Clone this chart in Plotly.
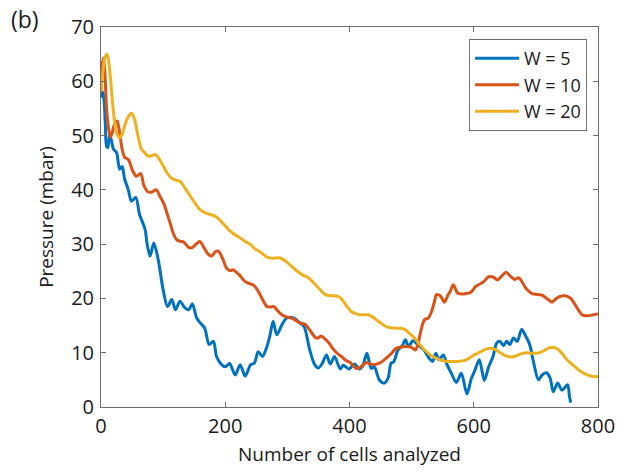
import plotly.graph_objects as go

# Pressure vs. number of cells analyzed, for three window sizes W
w5_x = [0, 3, 5, 7, 9, 11, 14, 17, 20, 25, 30, 34, 38, 44, 49, 56, 62, 71, 74, 79, 85, 92,
        100, 107, 114, 120, 127, 134, 141, 147, 154, 159, 167, 174, 181, 186, 194, 200,
        207, 216, 224, 232, 241, 247, 253, 260, 267, 272, 277, 283, 291, 299, 310, 320,
        327, 336, 344, 350, 356, 363, 369, 376, 385, 390, 399, 408, 416, 421, 428, 435,
        440, 448, 456, 462, 467, 471, 478, 485, 490, 495, 502, 510, 520, 528, 534, 539,
        544, 551, 557, 564, 572, 580, 589, 596, 602, 609, 617, 624, 631, 637, 642, 648,
        653, 658, 664, 670, 677, 683, 690, 696, 704, 710, 717, 723, 728, 735, 742, 751,
        754, 756]
w5_y = [57, 58, 56.5, 52, 48, 47.8, 50.2, 49, 47.5, 46.9, 43.8, 44.3, 42, 40, 37.9, 38.6,
        35.5, 32.7, 30.2, 27.8, 30.2, 27.2, 21.6, 18.5, 19.8, 17.9, 19.5, 18.4, 17.9, 19,
        16.4, 15.6, 14.5, 11.5, 12.1, 9.3, 7.8, 7.4, 8, 5.9, 7.8, 5.7, 7.8, 8.1, 10.2, 9.3,
        11.1, 13.2, 15.8, 13.3, 15.1, 16.4, 16.4, 15.5, 14.8, 10.5, 7.8, 7.2, 8, 9.6, 7.9,
        9.3, 7, 7.7, 7, 7.9, 7, 7.5, 9.9, 7.1, 7.4, 5, 4.4, 5.3, 8.1, 8.3, 10.5, 11.3, 12.4,
        11.1, 12.2, 11.5, 10.5, 9, 8.4, 9.9, 8.7, 9.6, 7.8, 6.2, 4.5, 6.2, 2.4, 5.2, 6.8,
        8.7, 4.9, 7.4, 9.3, 11.8, 12.1, 11.3, 12.1, 11.5, 12.7, 12.1, 14.3, 13.2, 11.5,
        8.4, 5, 5.9, 6.3, 5.3, 2.8, 4.4, 3.1, 4.1, 2, 0.8]

w10_x = [0, 2, 4, 6, 9, 12, 15, 18, 22, 26, 30, 34, 38, 44, 51, 57, 64, 69, 76, 82, 89, 95,
         101, 106, 111, 116, 122, 128, 133, 140, 146, 153, 159, 165, 172, 178, 184, 189,
         196, 202, 208, 213, 218, 223, 232, 240, 246, 251, 256, 261, 267, 272, 278, 283,
         288, 294, 299, 305, 310, 320, 329, 337, 345, 349, 354, 360, 367, 373, 380, 387,
         394, 401, 406, 411, 418, 427, 432, 438, 448, 454, 459, 467, 475, 486, 497, 502,
         506, 510, 513, 517, 521, 527, 533, 537, 540, 546, 553, 558, 562, 567, 574, 581,
         588, 596, 603, 609, 616, 624, 632, 638, 645, 652, 659, 666, 672, 677, 682, 686,
         694, 704, 710, 715, 721, 726, 731, 737, 747, 756, 760, 765, 770, 774, 782, 793,
         800]
w10_y = [58, 63, 64.3, 62, 55, 51.5, 49.7, 50.5, 52.2, 52.7, 50.5, 47.5, 46, 45.6, 43.5,
         42.5, 43, 40.8, 39.6, 39.6, 40, 38.8, 37.5, 35.8, 34, 32.1, 30.8, 30.5, 30.4, 29.5,
         29.3, 30, 30.5, 29.5, 28.2, 27.8, 28.6, 28.7, 27.3, 25.6, 25.1, 25.3, 24.8, 24.3,
         23.1, 22.7, 22.4, 21.7, 20.7, 19.6, 18.5, 18.4, 18.5, 17.9, 17.3, 16.8, 16.6, 16.4,
         16.2, 15.5, 15.2, 14, 12.8, 12.7, 13.1, 12.6, 11.8, 10.8, 9.9, 9.3, 8.6, 8.2, 7.6,
         7.1, 7.4, 8.2, 8, 7.8, 8.1, 8.5, 9, 9.8, 10.8, 11.1, 11.1, 10.8, 10.5, 11.5, 13,
         15, 16.1, 16.4, 17.9, 19.5, 20.7, 20.5, 19.3, 20.5, 21.3, 22.5, 21, 20.8, 20.9,
         21.2, 22.2, 22.6, 23.1, 24, 23.9, 23.4, 24.1, 24.8, 24.1, 23.5, 23.8, 23.2, 22.2,
         21.6, 20.9, 20.7, 20.6, 20.2, 19.7, 19.3, 19.8, 20.3, 20.5, 20, 19.4, 18.5, 17.6,
         17, 16.8, 17, 17.2]

w20_x = [0, 3, 6, 10, 14, 19, 22, 25, 30, 34, 38, 44, 49, 54, 58, 65, 70, 76, 82, 87, 93,
         100, 106, 113, 120, 127, 137, 144, 151, 159, 167, 175, 183, 189, 195, 203, 211,
         222, 232, 240, 248, 256, 267, 276, 286, 293, 300, 308, 316, 325, 334, 342, 348,
         355, 361, 370, 377, 383, 388, 396, 403, 410, 416, 424, 430, 437, 443, 450, 456,
         462, 467, 475, 483, 490, 496, 502, 507, 514, 521, 528, 534, 541, 548, 557, 566,
         574, 582, 588, 594, 601, 608, 615, 621, 628, 634, 640, 645, 652, 658, 665, 672,
         679, 686, 694, 702, 708, 715, 720, 726, 731, 737, 744, 750, 758, 766, 772, 779,
         786, 793, 800]
w20_y = [58.2, 61.5, 64.3, 65, 62, 55.5, 52.5, 50.5, 49.6, 50.2, 51.8, 53.5, 54.1, 53,
         50.8, 47.5, 46.9, 46.2, 46.3, 46.5, 45.8, 44.4, 43.2, 42.2, 41.8, 41.6, 40, 38.8,
         37.6, 36.4, 35.8, 35.5, 35.2, 34.7, 34, 33, 32.1, 31.3, 30.5, 30, 29.1, 28.6, 27.6,
         27.4, 27.5, 27.2, 26.6, 25.8, 25, 24.3, 23.8, 22.9, 22.2, 21.3, 20.7, 20.5, 20.5,
         20.3, 19.8, 18.5, 17.6, 17.2, 17, 17, 17, 16.6, 16.1, 15.5, 15, 14.7, 14.6, 14.5,
         14.5, 14.2, 13.6, 13, 12.4, 11.4, 10.5, 9.8, 9.3, 8.9, 8.6, 8.4, 8.4, 8.4, 8.5, 8.7,
         9.1, 9.6, 10, 10.4, 10.7, 10.8, 10.6, 10.2, 9.8, 9.4, 9.2, 9.3, 9.6, 9.9, 10, 9.9,
         9.9, 10.1, 10.5, 10.8, 11, 10.9, 10.5, 9.6, 8.7, 7.9, 7.1, 6.6, 6.1, 5.8, 5.6, 5.6]

series = [
    ("W = 5", w5_x, w5_y, "#0072BD"),
    ("W = 10", w10_x, w10_y, "#D95319"),
    ("W = 20", w20_x, w20_y, "#EDB120"),
]

FONT = "Open Sans"
TEXT_COLOR = "#1a1a1a"
AXIS_COLOR = "#6e6e6e"

fig = go.Figure()
for name, xs, ys, color in series:
    fig.add_trace(go.Scatter(
        x=xs, y=ys, name=name, mode="lines",
        line=dict(color=color, width=3, shape="spline", smoothing=0.8),
    ))

axis_common = dict(
    showline=True, linecolor=AXIS_COLOR, linewidth=1, mirror="allticks",
    ticks="inside", ticklen=5, tickcolor=AXIS_COLOR, tickwidth=1,
    showgrid=False, zeroline=False, automargin=False,
    tickfont=dict(family=FONT, size=20, color=TEXT_COLOR),
)

fig.update_xaxes(
    range=[0, 800], tickvals=[0, 200, 400, 600, 800],
    title=dict(text="Number of cells analyzed", font=dict(family=FONT, size=19, color=TEXT_COLOR),
               standoff=9),
    ticklabelstandoff=1,
    **axis_common,
)
fig.update_yaxes(
    range=[0, 70], tickvals=[0, 10, 20, 30, 40, 50, 60, 70],
    title=dict(text="Pressure (mbar)", font=dict(family=FONT, size=19, color=TEXT_COLOR),
               standoff=12),
    ticklabelstandoff=2,
    **axis_common,
)

fig.add_annotation(
    text="(b)", xref="paper", yref="paper", x=-0.185, y=1.02,
    xanchor="left", yanchor="middle", showarrow=False,
    font=dict(family=FONT, size=23, color=TEXT_COLOR),
)

fig.update_layout(
    width=623, height=472,
    margin=dict(l=101, r=25, t=27, b=65),
    paper_bgcolor="white", plot_bgcolor="white",
    showlegend=True,
    legend=dict(
        x=0.978, y=0.968, xanchor="right", yanchor="top",
        bordercolor=AXIS_COLOR, borderwidth=1, bgcolor="white",
        font=dict(family=FONT, size=18, color=TEXT_COLOR),
        itemwidth=44,
    ),
)

fig.write_html("out.html")
